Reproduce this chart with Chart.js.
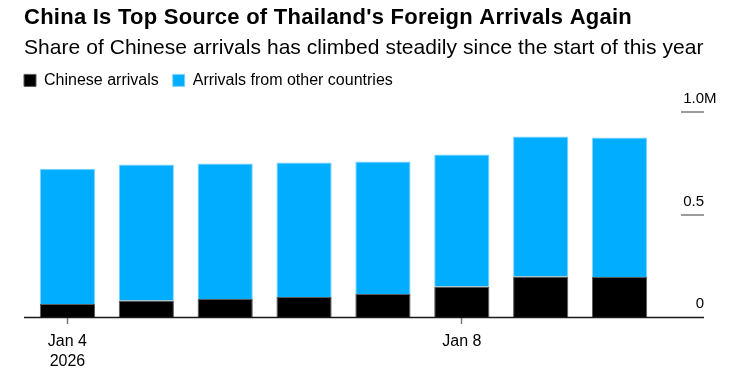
<!DOCTYPE html>
<html>
<head>
<meta charset="utf-8">
<title>China Is Top Source of Thailand's Foreign Arrivals Again</title>
<script src="https://cdn.jsdelivr.net/npm/chart.js@4.4.1/dist/chart.umd.min.js"></script>
<style>
  html, body { margin: 0; padding: 0; background: #fff; }
  #wrap { width: 738px; height: 378px; }
</style>
</head>
<body>
<div id="wrap"><canvas id="chart" width="738" height="378"></canvas></div>
<script>
// one bar per period, only two of them carry a label
const tickLabels = [['Jan 4', '2026'], '', '', '', '', 'Jan 8', '', ''];

// arrivals, in millions
const chineseArrivals = [0.064, 0.081, 0.088, 0.098, 0.113, 0.149, 0.198, 0.196];
const otherArrivals   = [0.661, 0.664, 0.662, 0.657, 0.647, 0.645, 0.684, 0.681];

// right hand axis
const yTicks      = [0, 0.5, 1.0];
const yTickLabels = ['0', '0.5', '1.0'];
const yUnit = 'M';

const TITLE = "China Is Top Source of Thailand's Foreign Arrivals Again";
const SUBTITLE = 'Share of Chinese arrivals has climbed steadily since the start of this year';

const colors = {
    black: '#000000',
    blue: '#00adff',
    grey: '#7a7a7a',
    text: '#000000'
};
const FONT = '"Liberation Sans", Arial, Helvetica, sans-serif';

// the headline font in the original runs a touch wider than Liberation
const letterSpacing = { [TITLE]: '0.25px', [SUBTITLE]: '0.05px' };

const textSpacing = {
    id: 'textSpacing',
    beforeDraw(chart) {
        chart.boxes.forEach(box => {
            const ls = box.options && letterSpacing[box.options.text];
            if (!ls || box._spaced) return;
            const draw = box.draw;
            box.draw = function (...args) {
                const ctx = this.ctx;
                const prev = ctx.letterSpacing;
                ctx.letterSpacing = ls;
                draw.apply(this, args);
                ctx.letterSpacing = prev;
            };
            box._spaced = true;
        });
    }
};

// legend: fixed height so the plot starts where it should, and flush left with the title
const legendTweak = {
    id: 'legendTweak',
    beforeLayout(chart) {
        const legend = chart.legend;
        if (!legend || legend._tweaked) return;
        const fit = legend.fit;
        legend.fit = function () { fit.call(this); this.height = 54; };
        legend._tweaked = true;
    },
    afterLayout(chart) {
        chart.legend.left -= chart.legend.options.labels.padding;
    }
};

// value labels on the right, with the short rule under each one, plus the baseline
const rightAxis = {
    id: 'rightAxis',
    afterDraw(chart) {
        const { ctx, chartArea, scales: { y } } = chart;
        const x0 = chartArea.right + 22;
        const x1 = chartArea.right + 45;
        ctx.save();
        ctx.font = '15px ' + FONT;
        ctx.fillStyle = colors.text;
        ctx.textBaseline = 'alphabetic';
        yTicks.forEach((v, i) => {
            const py = Math.round(y.getPixelForValue(v));
            if (v !== 0) {
                ctx.strokeStyle = colors.grey;
                ctx.lineWidth = 1.5;
                ctx.beginPath();
                ctx.moveTo(x0, py);
                ctx.lineTo(x1, py);
                ctx.stroke();
            }
            ctx.textAlign = 'right';
            ctx.fillText(yTickLabels[i], x1, py - 9);
            if (i === yTicks.length - 1) {
                ctx.textAlign = 'left';
                ctx.fillText(yUnit, x1, py - 9);
            }
        });
        const by = Math.round(y.getPixelForValue(0)) + 0.5;
        ctx.strokeStyle = '#1a1a1a';
        ctx.lineWidth = 1.5;
        ctx.beginPath();
        ctx.moveTo(chart.options.layout.padding.left, by);
        ctx.lineTo(x1, by);
        ctx.stroke();
        ctx.restore();
    }
};

new Chart(document.getElementById('chart'), {
    type: 'bar',
    data: {
        labels: tickLabels,
        datasets: [
            {
                label: 'Chinese arrivals',
                data: chineseArrivals,
                backgroundColor: colors.black,
                borderColor: '#5a5a5a',
                borderWidth: 1,
                borderSkipped: 'start'
            },
            {
                label: 'Arrivals from other countries',
                data: otherArrivals,
                backgroundColor: colors.blue,
                borderColor: '#7fd4ff',
                borderWidth: 1,
                borderSkipped: 'start'
            }
        ]
    },
    options: {
        responsive: false,
        devicePixelRatio: 1,
        animation: false,
        layout: { padding: { left: 24, right: 0, top: 0, bottom: 0 } },
        datasets: { bar: { barPercentage: 0.7, categoryPercentage: 1.0 } },
        plugins: {
            title: {
                display: true,
                align: 'start',
                text: TITLE,
                color: colors.text,
                font: { family: FONT, size: 22, weight: 'bold', lineHeight: 1.2 },
                padding: { top: 5, bottom: 0 }
            },
            subtitle: {
                display: true,
                align: 'start',
                text: SUBTITLE,
                color: colors.text,
                font: { family: FONT, size: 21, lineHeight: 1.0 },
                padding: { top: 6, bottom: 0 }
            },
            legend: {
                display: true,
                position: 'top',
                align: 'start',
                labels: {
                    boxWidth: 12,
                    boxHeight: 12,
                    padding: 14,
                    color: colors.text,
                    font: { family: FONT, size: 16 }
                }
            },
            tooltip: { enabled: false }
        },
        scales: {
            x: {
                stacked: true,
                grid: {
                    display: true,
                    drawOnChartArea: false,
                    offset: false,
                    tickLength: 7,
                    tickWidth: 1.5,
                    tickColor: c => (tickLabels[c.index] ? colors.grey : 'rgba(0,0,0,0)')
                },
                border: { display: false },
                ticks: {
                    autoSkip: false,
                    maxRotation: 0,
                    padding: 8,
                    color: colors.text,
                    font: { family: FONT, size: 16, lineHeight: 1.25 }
                },
                afterFit: s => { s.height = 61; }
            },
            // value axis sits on the right; its labels are drawn by rightAxis
            y: {
                stacked: true,
                position: 'right',
                min: 0,
                max: 1.0,
                ticks: { display: false },
                grid: { display: false },
                border: { display: false },
                afterFit: s => { s.width = 79; }
            },
            // small gap on the left of the bars
            gap: {
                type: 'linear',
                position: 'left',
                ticks: { display: false },
                grid: { display: false },
                border: { display: false },
                afterFit: s => { s.width = 4; }
            }
        }
    },
    plugins: [textSpacing, legendTweak, rightAxis]
});
</script>
</body>
</html>
